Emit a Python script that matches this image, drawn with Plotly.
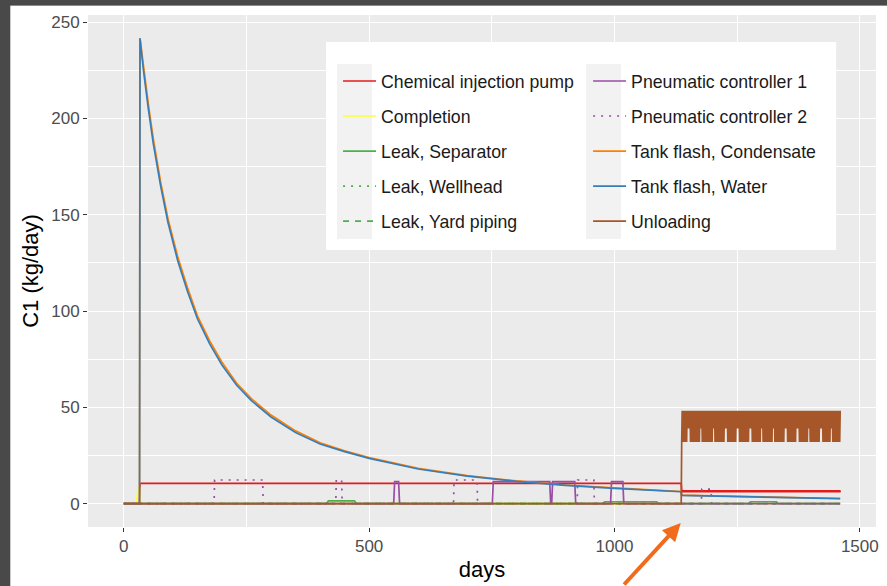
import plotly.graph_objects as go

# ---------------- data ----------------
day_end = 1460

tf_days = [0, 32, 33, 40, 50, 60, 75, 90, 110, 130, 150, 175, 200, 230, 260, 300, 350,
           400, 450, 500, 600, 700, 800, 900, 1000, 1100, 1136, 1137, 1200, 1300, 1400, 1460]
water = [0, 0, 241.6, 225, 205, 187, 165, 146, 126, 110, 96, 83, 72, 61.5, 53.5, 45, 37,
         31, 27, 23.5, 18, 14.3, 11.6, 9.5, 7.9, 6.6, 6.2, 4.3, 3.9, 3.4, 2.9, 2.6]
condensate = [0, 0, 241.6, 227, 207.5, 189.5, 167, 148, 128, 112, 97.5, 84.5, 73.5, 62.5, 54.5,
              46, 37.8, 31.6, 27.4, 23.9, 18.3, 14.6, 11.8, 9.7, 8.05, 6.75, 6.35, 4.45, 4.05,
              3.5, 3.0, 2.7]

chem_days = [0, 32, 33, 1136]
chem_vals = [0, 0, 10.5, 10.5]
chem_after_levels = [5.9, 7.0]          # daily jitter after day 1137

completion_days = [0, 26, 29, 32, 33, day_end]
completion_vals = [0, 0, 8.3, 8.3, 0, 0]

leak_sep_days = [0, 413, 417, 470, 474, 976, 980, 1086, 1090, 1273, 1277, 1330, 1334, day_end]
leak_sep_vals = [0, 0, 1.5, 1.5, 0, 0, 1.0, 1.0, 0, 0, 1.0, 1.0, 0, 0]

leak_well_days = [0, day_end]
leak_well_vals = [0, 0]
leak_yard_days = [0, day_end]
leak_yard_vals = [0, 0]

pc1_days = [0, 550, 552, 560, 562, 751, 753, 868, 870, 872, 874, 919, 921, 992, 994, 1017, 1019, day_end]
pc1_vals = [0, 0, 11.5, 11.5, 0, 0, 11.5, 11.5, 0, 0, 11.5, 11.5, 0, 0, 11.5, 11.5, 0, 0]

pc2_days = [0, 184, 185, 283, 284, 432, 433, 444, 445, 672, 673, 720, 721, 924, 925, 958, 959,
            1177, 1178, 1197, 1198, day_end]
pc2_vals = [0, 0, 12.3, 12.3, 0, 0, 12.3, 12.3, 0, 0, 12.3, 12.3, 0, 0, 12.3, 12.3, 0,
            0, 7.6, 7.6, 0, 0]

unload_start = 1137
unload_peak = 48.3
unload_base = 32.0
unload_notch = 39.0
unload_notch_days = [1151, 1176, 1202, 1227, 1251, 1277, 1300, 1324, 1349, 1373, 1396, 1421, 1442]

y_ticks = [0, 50, 100, 150, 200, 250]
x_ticks = [0, 500, 1000, 1500]

# ---------------- build series ----------------
chem_x = list(chem_days)
chem_y = list(chem_vals)
for d in range(unload_start, day_end + 1):
    chem_x.append(d)
    chem_y.append(chem_after_levels[d % 2])

unl_x = [0, unload_start - 1]
unl_y = [0, 0]
for i, d in enumerate(range(unload_start, day_end + 1)):
    if i % 2 == 1:
        v = unload_peak
    else:
        v = unload_notch if any(abs(d - n) <= 2 for n in unload_notch_days) else unload_base
    unl_x.append(d)
    unl_y.append(v)

RED, YEL, GRN, PUR, ORG, BLU, BRN = "#E41A1C", "#FFFF33", "#4DAF4A", "#984EA3", "#FF7F00", "#377EB8", "#A65628"
LW = 1.7

series = [
    ("Chemical injection pump", chem_x, chem_y, RED, "solid", "legend"),
    ("Completion", completion_days, completion_vals, YEL, "solid", "legend"),
    ("Leak, Separator", leak_sep_days, leak_sep_vals, GRN, "solid", "legend"),
    ("Leak, Wellhead", leak_well_days, leak_well_vals, GRN, "2px,6px", "legend"),
    ("Leak, Yard piping", leak_yard_days, leak_yard_vals, GRN, "6px,6px", "legend"),
    ("Pneumatic controller 1", pc1_days, pc1_vals, PUR, "solid", "legend2"),
    ("Pneumatic controller 2", pc2_days, pc2_vals, PUR, "2px,6px", "legend2"),
    ("Tank flash, Condensate", tf_days, condensate, ORG, "solid", "legend2"),
    ("Tank flash, Water", tf_days, water, BLU, "solid", "legend2"),
    ("Unloading", unl_x, unl_y, BRN, "solid", "legend2"),
]

fig = go.Figure()
for name, xs, ys, col, dash, leg in series:
    fig.add_trace(go.Scatter(
        x=xs, y=ys, mode="lines", name=name, legendgroup=name, legend=leg,
        line=dict(color=col, width=LW, dash=dash),
    ))

W, H = 887, 586
ML, MR, MT, MB = 88, 8, 15, 59
PW, PH = W - ML - MR, H - MT - MB
FRAME = "#494949"


def px_x(p):
    return (p - ML) / PW


def px_y(p):
    return (H - MB - p) / PH


shapes = [
    # legend background box
    dict(type="rect", xref="paper", yref="paper", layer="above",
         x0=px_x(327), x1=px_x(839), y0=px_y(250), y1=px_y(42),
         fillcolor="white", line=dict(width=0)),
    # legend key backgrounds
    dict(type="rect", xref="paper", yref="paper", layer="above",
         x0=px_x(338), x1=px_x(373), y0=px_y(239), y1=px_y(64),
         fillcolor="#F2F2F2", line=dict(width=0)),
    dict(type="rect", xref="paper", yref="paper", layer="above",
         x0=px_x(588), x1=px_x(623), y0=px_y(239), y1=px_y(64),
         fillcolor="#F2F2F2", line=dict(width=0)),
    # dark screenshot frame (left and top)
    dict(type="rect", xref="paper", yref="paper", layer="above",
         x0=px_x(-10), x1=px_x(10), y0=px_y(H + 10), y1=px_y(-10),
         fillcolor=FRAME, line=dict(width=0)),
    dict(type="rect", xref="paper", yref="paper", layer="below",
         x0=px_x(-10), x1=px_x(W + 10), y0=px_y(5.5), y1=px_y(-10),
         fillcolor=FRAME, line=dict(width=0)),
    dict(type="line", xref="paper", yref="paper", layer="above",
         x0=px_x(-10), x1=px_x(W + 10), y0=px_y(2.5), y1=px_y(2.5),
         line=dict(color=FRAME, width=5.5)),
]

legend_common = dict(
    bgcolor="rgba(0,0,0,0)", borderwidth=0, traceorder="grouped", tracegroupgap=9,
    font=dict(family="Liberation Sans, Arial, sans-serif", size=17.7, color="#1A1A1A"),
    xanchor="left", yanchor="top", itemwidth=33,
)

fig.update_layout(
    width=W, height=H,
    margin=dict(l=ML, r=MR, t=MT, b=MB, pad=0),
    paper_bgcolor="white", plot_bgcolor="#EBEBEB",
    font=dict(family="Liberation Sans, Arial, sans-serif", color="#4D4D4D"),
    showlegend=True,
    legend=dict(x=px_x(339), y=px_y(63), **legend_common),
    legend2=dict(x=px_x(590), y=px_y(63), **legend_common),
    shapes=shapes,
    annotations=[
        dict(
            x=px_x(683), y=px_y(523), xref="paper", yref="paper", text="",
            showarrow=True, arrowhead=2, arrowsize=0.9, arrowwidth=4, arrowcolor="#F26B1D",
            ax=-58, ay=75, axref="pixel", ayref="pixel",
        ),
    ],
)

fig.update_xaxes(
    range=[-73, 1533], tickvals=x_ticks, ticktext=[str(v) for v in x_ticks],
    showgrid=True, gridcolor="white", gridwidth=1.4, zeroline=False,
    minor=dict(dtick=250, tick0=0, showgrid=True, gridcolor="white", gridwidth=0.7),
    ticks="outside", ticklen=4, tickwidth=1.2, tickcolor="#333333",
    tickfont=dict(size=17, color="#4D4D4D"),
    title=dict(text="days", font=dict(size=22, color="black"), standoff=6),
)
fig.update_yaxes(
    range=[-12.1, 253.7], tickvals=y_ticks, ticktext=[str(v) for v in y_ticks],
    showgrid=True, gridcolor="white", gridwidth=1.4, zeroline=False,
    minor=dict(dtick=25, tick0=0, showgrid=True, gridcolor="white", gridwidth=0.7),
    ticks="outside", ticklen=4, tickwidth=1.2, tickcolor="#333333",
    tickfont=dict(size=17, color="#4D4D4D"),
    title=dict(text="C1 (kg/day)", font=dict(size=22, color="black"), standoff=6),
)

fig.write_html(
    "out.html",
    config={"displayModeBar": False},
    post_script="document.body.style.margin='0px';document.body.style.overflow='hidden';",
)
